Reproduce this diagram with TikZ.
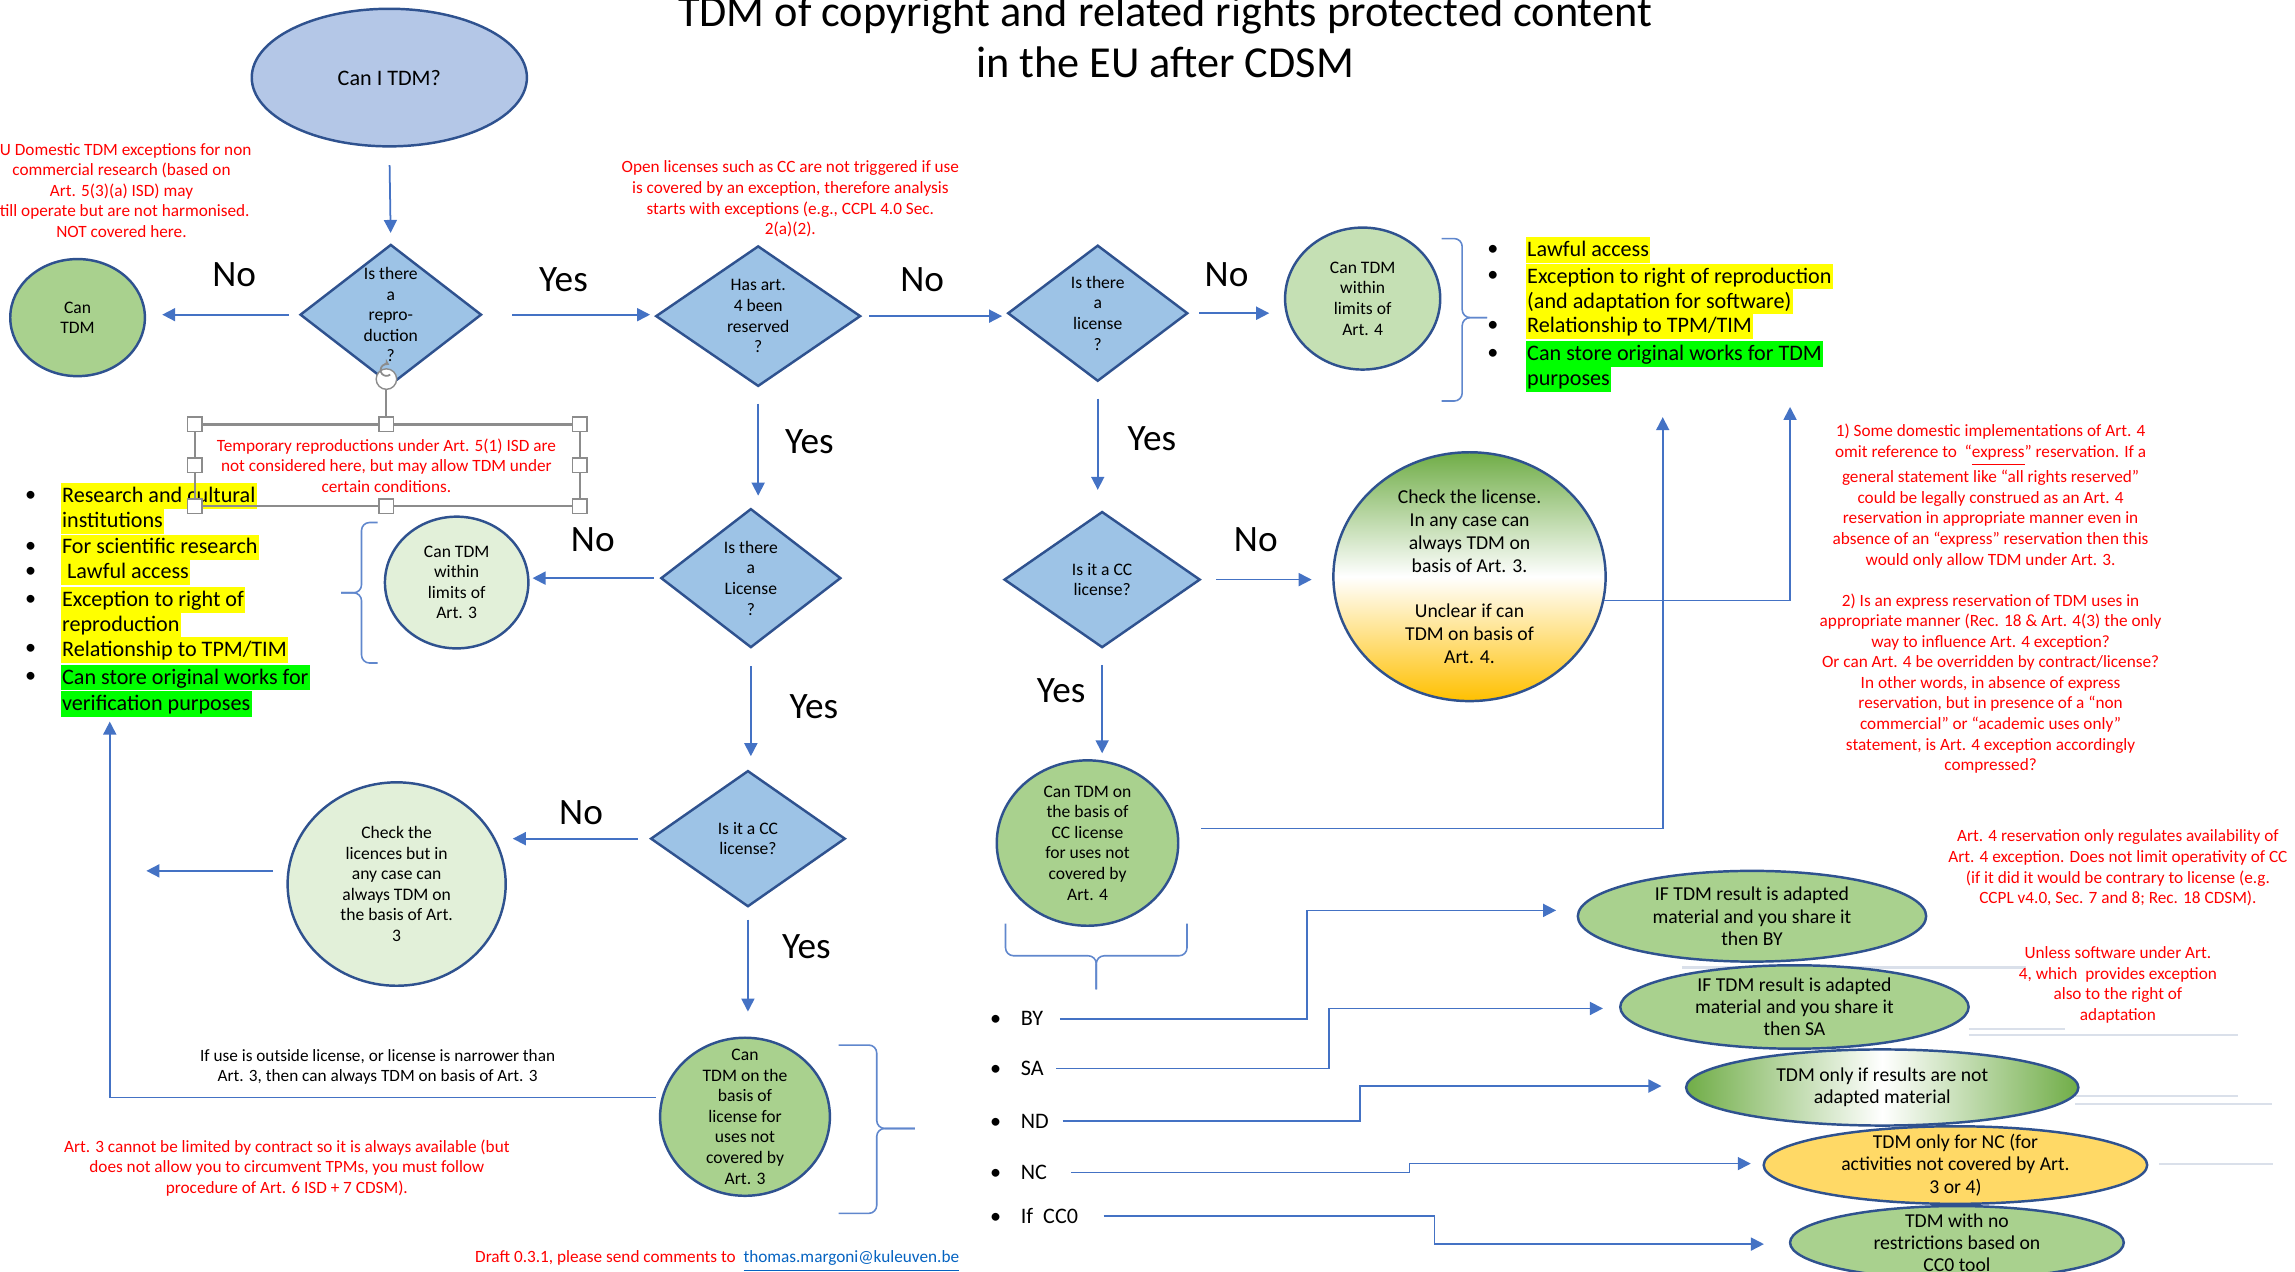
\documentclass[tikz,border=0pt]{standalone}
\usepackage{fontspec}
\setmainfont{Carlito}
\usepackage{tikz}
\usetikzlibrary{arrows.meta, shapes.geometric, calc}

\definecolor{lineblue}{HTML}{4472C4}
\definecolor{edgeblue}{HTML}{2F528F}
\definecolor{diafill}{HTML}{9DC3E6}
\definecolor{startfill}{HTML}{B4C7E7}
\definecolor{palegreen}{HTML}{E2F0D9}
\definecolor{lightgreen}{HTML}{C5E0B4}
\definecolor{midgreen}{HTML}{A9D18E}
\definecolor{darkgreen}{HTML}{70AD47}
\definecolor{goldfill}{HTML}{FFD966}
\definecolor{orangegold}{HTML}{FFC000}
\definecolor{notered}{HTML}{FF0000}
\definecolor{hlyellow}{HTML}{FFFF00}
\definecolor{hlgreen}{HTML}{00FF00}
\definecolor{mailblue}{HTML}{0563C1}
\definecolor{handlegray}{HTML}{8C8C8C}
\definecolor{ghostline}{HTML}{DAE0EA}

\newlength{\pxu}
\setlength{\pxu}{0.14637mm}
\newcommand{\fsz}[2]{\fontsize{#1}{#2}\selectfont}

\tikzset{
    decision/.style={diamond, draw=edgeblue, line width=0.7pt, fill=diafill, inner sep=0pt},
    outcome/.style={ellipse, draw=edgeblue, line width=0.7pt, inner sep=0pt},
    intext/.style={align=center, font=\fsz{5pt}{5.85pt}, inner sep=0pt},
    bigtext/.style={align=center, font=\fsz{5.6pt}{6.5pt}, inner sep=0pt},
    ovaltext/.style={align=center, font=\fsz{5.6pt}{6.3pt}, inner sep=0pt},
    remark/.style={align=center, text=notered, font=\fsz{4.9pt}{5.85pt}, inner sep=0pt},
    headline/.style={anchor=base, font=\fsz{12.6pt}{14.6pt}, inner sep=0pt},
    yesno/.style={font=\fsz{10.6pt}{12pt}, inner sep=0pt},
    bul/.style={font=\fsz{6.3pt}{7.3pt}, inner sep=0pt},
    cclist/.style={anchor=west, font=\fsz{6.3pt}{7.3pt}, inner sep=0pt},
    hl/.style={anchor=west, fill=#1, font=\fsz{6.3pt}{7.3pt}, inner xsep=0.4pt, inner ysep=0pt, text height=5.5pt, text depth=1.8pt},
    arr/.style={draw=lineblue, line width=0.5pt, -{Triangle[length=1.3mm, width=1.3mm]}},
    gaps/.style 2 args={shorten <=#1*\pxu, shorten >=#2*\pxu},
    brc/.style={draw=lineblue!85, line width=0.45pt, rounded corners=0.8mm},
    handle/.style={draw=handlegray, fill=white, line width=0.4pt},
}

\begin{document}
\begin{tikzpicture}[x=0.14637mm, y=-0.14637mm]
        \useasboundingbox (0,0) rectangle (1568,869);
        \node[headline] (title1) at (796,18) {TDM of copyright and related rights protected content};
        \node[headline] (title2) at (796,53) {in the EU after CDSM};

        \node[outcome, fill=startfill, minimum width=188*\pxu, minimum height=94*\pxu, font=\fsz{6.3pt}{7pt}] (start) at (266,53) {Can I TDM?};
        \node[decision, minimum width=124*\pxu, minimum height=96*\pxu, label={[intext]center:{Is there\\a\\repro-\\duction\\?}}] (d1) at (267,215) {};
        \node[decision, minimum width=140*\pxu, minimum height=96*\pxu, label={[intext]center:{Has art.\\4 been\\reserved\\?}}] (d2) at (518,216) {};
        \node[decision, minimum width=123*\pxu, minimum height=93*\pxu, label={[intext]center:{Is there\\a\\license\\?}}] (d3) at (750,214) {};
        \node[decision, minimum width=134*\pxu, minimum height=93*\pxu, label={[intext]center:{Is it a CC\\license?}}] (d4) at (753,396) {};
        \node[decision, minimum width=123*\pxu, minimum height=95*\pxu, label={[intext]center:{Is there\\a\\License\\?}}] (d5) at (513,395) {};
        \node[decision, minimum width=133*\pxu, minimum height=93*\pxu, label={[intext]center:{Is it a CC\\license?}}] (d6) at (511,573) {};

        \node[outcome, fill=midgreen, minimum width=92*\pxu, minimum height=80*\pxu, label={[intext]center:{Can\\TDM}}] (cantdm) at (53,217) {};
        \node[outcome, fill=lightgreen, minimum width=106*\pxu, minimum height=97*\pxu, label={[intext]center:{Can TDM\\within\\limits of\\Art. 4}}] (art4) at (931,204) {};
        \node[outcome, fill=palegreen, minimum width=98*\pxu, minimum height=90*\pxu, label={[intext]center:{Can TDM\\within\\limits of\\Art. 3}}] (art3) at (312,398) {};
        \node[outcome, top color=darkgreen, bottom color=orangegold, middle color=white, minimum width=186*\pxu, minimum height=170*\pxu, label={[bigtext]center:{Check the license.\\In any case can\\always TDM on\\basis of Art. 3.\\[6.5pt]Unclear if can\\TDM on basis of\\Art. 4.}}] (checklic) at (1004,394) {};
        \node[outcome, fill=midgreen, minimum width=124*\pxu, minimum height=113*\pxu, label={[intext]center:{Can TDM on\\the basis of\\CC license\\for uses not\\covered by\\Art. 4}}] (ccart4) at (743,576) {};
        \node[outcome, fill=palegreen, minimum width=149*\pxu, minimum height=139*\pxu, label={[intext]center:{Check the\\licences but in\\any case can\\always TDM on\\the basis of Art.\\3}}] (checkall) at (271,604) {};
        \node[outcome, fill=midgreen, minimum width=116*\pxu, minimum height=108*\pxu, label={[intext]center:{Can\\TDM on the\\basis of\\license for\\uses not\\covered by\\Art. 3}}] (licart3) at (509,763) {};

        \draw[ghostline, line width=0.6pt] (1149,661) -- (1384,661);
        \draw[ghostline, line width=0.6pt] (1345,703) -- (1411,703);
        \draw[ghostline, line width=0.6pt] (1345,707) -- (1529,707);
        \draw[ghostline, line width=0.6pt] (1418,749) -- (1529,749);
        \draw[ghostline, line width=0.6pt] (1418,754) -- (1552,754);
        \draw[ghostline, line width=0.6pt] (1475,795) -- (1553,795);

        \node[outcome, fill=midgreen, minimum width=238*\pxu, minimum height=62*\pxu, label={[ovaltext]center:{IF TDM result is adapted\\material and you share it\\then BY}}] (ovby) at (1197,626) {};
        \node[outcome, fill=midgreen, minimum width=238*\pxu, minimum height=57*\pxu, label={[ovaltext]center:{IF TDM result is adapted\\material and you share it\\then SA}}] (ovsa) at (1226,688) {};
        \node[outcome, left color=darkgreen, right color=darkgreen, middle color=white, minimum width=268*\pxu, minimum height=52*\pxu, label={[ovaltext]center:{TDM only if results are not\\adapted material}}] (ovnd) at (1286,743) {};
        \node[outcome, fill=goldfill, minimum width=262*\pxu, minimum height=53*\pxu, label={[ovaltext]center:{TDM only for NC (for\\activities not covered by Art.\\3 or 4)}}] (ovnc) at (1336,796) {};
        \node[outcome, fill=midgreen, minimum width=228*\pxu, minimum height=50*\pxu, label={[ovaltext]center:{TDM with no\\restrictions based on\\CC0 tool}}] (ovzero) at (1337,849) {};

        \node[yesno] (no1) at (160,188) {No};
        \node[yesno] (yes1) at (385,191) {Yes};
        \node[yesno] (no2) at (630,191) {No};
        \node[yesno] (no3) at (838,188) {No};
        \node[yesno] (yes2) at (553,302) {Yes};
        \node[yesno] (yes3) at (787,300) {Yes};
        \node[yesno] (no4) at (405,369) {No};
        \node[yesno] (no5) at (858,369) {No};
        \node[yesno] (yes4) at (556,483) {Yes};
        \node[yesno] (yes5) at (725,472) {Yes};
        \node[yesno] (no6) at (397,555) {No};
        \node[yesno] (yes6) at (551,647) {Yes};

        \draw[arr, gaps={12}{7}] (start.south) -- (d1.north);
        \draw[arr, gaps={7}{11}] (d1.west) -- (d1.west -| cantdm.east);
        \draw[arr, gaps={20}{3}] (d1.east) -- (d1.east -| d2.west);
        \draw[arr, gaps={5}{3}] (d2.east) -- (d2.east -| d3.west);
        \draw[arr, gaps={7}{10}] (d3.east) -- (d3.east -| art4.west);
        \draw[arr, gaps={11}{8}] (d2.south) -- (d2.south |- d5.north);
        \draw[arr, gaps={11}{14}] (d3.south) -- (d3.south |- d4.north);
        \draw[arr, gaps={4}{2}] (d5.west) -- (d5.west -| art3.east);
        \draw[arr, gaps={10}{14}] (d4.east) -- (d4.east -| checklic.west);
        \draw[arr, gaps={12}{9}] (d5.south) -- (d5.south |- d6.north);
        \draw[arr, gaps={11}{4}] (d4.south) -- (d4.south |- ccart4.north);
        \draw[arr, gaps={8}{4}] (d6.west) -- (d6.west -| checkall.east);
        \draw[arr, gaps={8}{17}] (d6.south) -- (d6.south |- licart3.north);

        \coordinate (leftout) at (100,595);
        \coordinate (art3in) at (75,493);
        \coordinate (ccin) at (1136,285);
        \coordinate (gradin) at (1223,278);
        \draw[arr, gaps={9}{0}] (checkall.west |- leftout) -- (leftout);
        \draw[arr, gaps={4}{0}] (licart3.167) -| (art3in);
        \draw[arr] (ccart4.east) ++(15,-10) -| (ccin);
        \draw[arr] (checklic.-10) -| (gradin);

        \node[cclist] (by) at (676,696) {\makebox[21\pxu][l]{\textbullet}BY};
        \node[cclist] (sa) at (676,730) {\makebox[21\pxu][l]{\textbullet}SA};
        \node[cclist] (nd) at (676,766) {\makebox[21\pxu][l]{\textbullet}ND};
        \node[cclist] (nc) at (676,801) {\makebox[21\pxu][l]{\textbullet}NC};
        \node[cclist] (zero) at (676,831) {\makebox[21\pxu][l]{\textbullet}If~~CC0};
        \coordinate (byk) at (893,622);
        \coordinate (sak) at (908,689);
        \coordinate (ndk) at (929,742);
        \coordinate (nck) at (963,795);
        \coordinate (zerok) at (980,850);
        \draw[arr, gaps={11}{14}] (by.east) -| (byk) -- (byk -| ovby.west);
        \draw[arr, gaps={8}{11}] (sa.east) -| (sak) -- (sak -| ovsa.west);
        \draw[arr, gaps={9}{16}] (nd.east) -| (ndk) -- (ndk -| ovnd.west);
        \draw[arr, gaps={16}{8}] (nc.east) -| (nck) -- (nck -| ovnc.west);
        \draw[arr, gaps={17}{17}] (zero.east) -| (zerok) -- (zerok -| ovzero.west);

        \draw[brc] (985,163) -- (999,163) -- (999,217) -- (1016,217);
        \draw[brc] (1016,217) -- (999,217) -- (999,274) -- (985,274);
        \draw[brc] (258,357) -- (247,357) -- (247,405) -- (233,405);
        \draw[brc] (233,405) -- (247,405) -- (247,453) -- (258,453);
        \draw[brc] (573,714) -- (599,714) -- (599,771) -- (625,771);
        \draw[brc] (625,771) -- (599,771) -- (599,829) -- (573,829);
        \draw[brc] (687,631) -- (687,653) -- (749,653) -- (749,676);
        \draw[brc] (811,631) -- (811,653) -- (749,653) -- (749,676);

        \foreach \y in {171,189,223,242}
            \node[bul] (tb\y) at (1020,\y) {\textbullet};
        \node[hl=hlyellow] (tr1) at (1042,171) {Lawful access};
        \node[hl=hlyellow] (tr2) at (1042,189) {Exception to right of reproduction};
        \node[hl=hlyellow] (tr3) at (1042,206) {(and adaptation for software)};
        \node[hl=hlyellow] (tr4) at (1042,223) {Relationship to TPM/TIM};
        \node[hl=hlgreen] (tr5) at (1042,242) {Can store original works for TDM};
        \node[hl=hlgreen] (tr6) at (1042,259) {purposes};

        \foreach \y in {339,374,391,410,444,463}
            \node[bul] (lb\y) at (21,\y) {\textbullet};
        \node[hl=hlyellow] (ll1) at (41,339) {Research and cultural};
        \node[hl=hlyellow] (ll2) at (41,356) {institutions};
        \node[hl=hlyellow] (ll3) at (41,374) {For scientific research};
        \node[hl=hlyellow] (ll4) at (41,391) {\ Lawful access};
        \node[hl=hlyellow] (ll5) at (41,410) {Exception to right of};
        \node[hl=hlyellow] (ll6) at (41,427) {reproduction};
        \node[hl=hlyellow] (ll7) at (41,444) {Relationship to TPM/TIM};
        \node[hl=hlgreen] (ll8) at (41,463) {Can store original works for};
        \node[hl=hlgreen] (ll9) at (41,481) {verification purposes};

        \draw[handlegray, line width=0.6pt] (133,290) rectangle (396,346);
        \draw[handlegray, line width=0.6pt] (264,266) -- (264,290);
        \foreach \hx/\hy in {133/290,264/290,396/290,133/318,396/318,133/346,264/346,396/346}
            \draw[handle] (\hx-5,\hy-5) rectangle (\hx+5,\hy+5);
        \draw[handle] (264,259) circle[radius=7];
        \draw[handlegray, line width=0.5pt, -{Stealth[length=0.6mm, width=0.7mm]}] (266.6,255.9) arc[start angle=50, end angle=300, radius=4];

        \node[remark] (rdomestic) at (83,130) {EU Domestic TDM exceptions for non\\commercial research (based on\\Art. 5(3)(a) ISD) may\\still operate but are not harmonised.\\NOT covered here.};
        \node[remark] (ropen) at (540,136) {Open licenses such as CC are not triggered if use\\is covered by an exception, therefore analysis\\starts with exceptions (e.g., CCPL 4.0 Sec.\\2(a)(2).};
        \node[remark] (rtemp) at (264,318) {Temporary reproductions under Art. 5(1) ISD are\\not considered here, but may allow TDM under\\certain conditions.};
        \node[remark] (rexpress) at (1360,409) {1) Some domestic implementations of Art. 4\\omit reference to~ “\underline{express}” reservation. If a\\general statement like “all rights reserved”\\could be legally construed as an Art. 4\\reservation in appropriate manner even in\\absence of an “express” reservation then this\\would only allow TDM under Art. 3.\\[5.85pt]2) Is an express reservation of TDM uses in\\appropriate manner (Rec. 18 \& Art. 4(3) the only\\way to influence Art. 4 exception?\\Or can Art. 4 be overridden by contract/license?\\In other words, in absence of express\\reservation, but in presence of a “non\\commercial” or “academic uses only”\\statement, is Art. 4 exception accordingly\\compressed?};
        \node[remark, text=black] (routside) at (258,729) {If use is outside license, or license is narrower than\\Art. 3, then can always TDM on basis of Art. 3};
        \node[remark] (rart3) at (196,798) {Art. 3 cannot be limited by contract so it is always available (but\\does not allow you to circumvent TPMs, you must follow\\procedure of Art. 6 ISD + 7 CDSM).};
        \node[remark] (rccpl) at (1447,593) {Art. 4 reservation only regulates availability of\\Art. 4 exception. Does not limit operativity of CC\\(if it did it would be contrary to license (e.g.\\CCPL v4.0, Sec. 7 and 8; Rec. 18 CDSM).};
        \node[remark] (rsoft) at (1447,673) {Unless software under Art.\\4, which~ provides exception\\also to the right of\\adaptation};
        \node[remark] (footer) at (490,862) {Draft 0.3.1, please send comments to~ \textcolor{mailblue}{\underline{thomas.margoni@kuleuven.be}}};
\end{tikzpicture}
\end{document}
